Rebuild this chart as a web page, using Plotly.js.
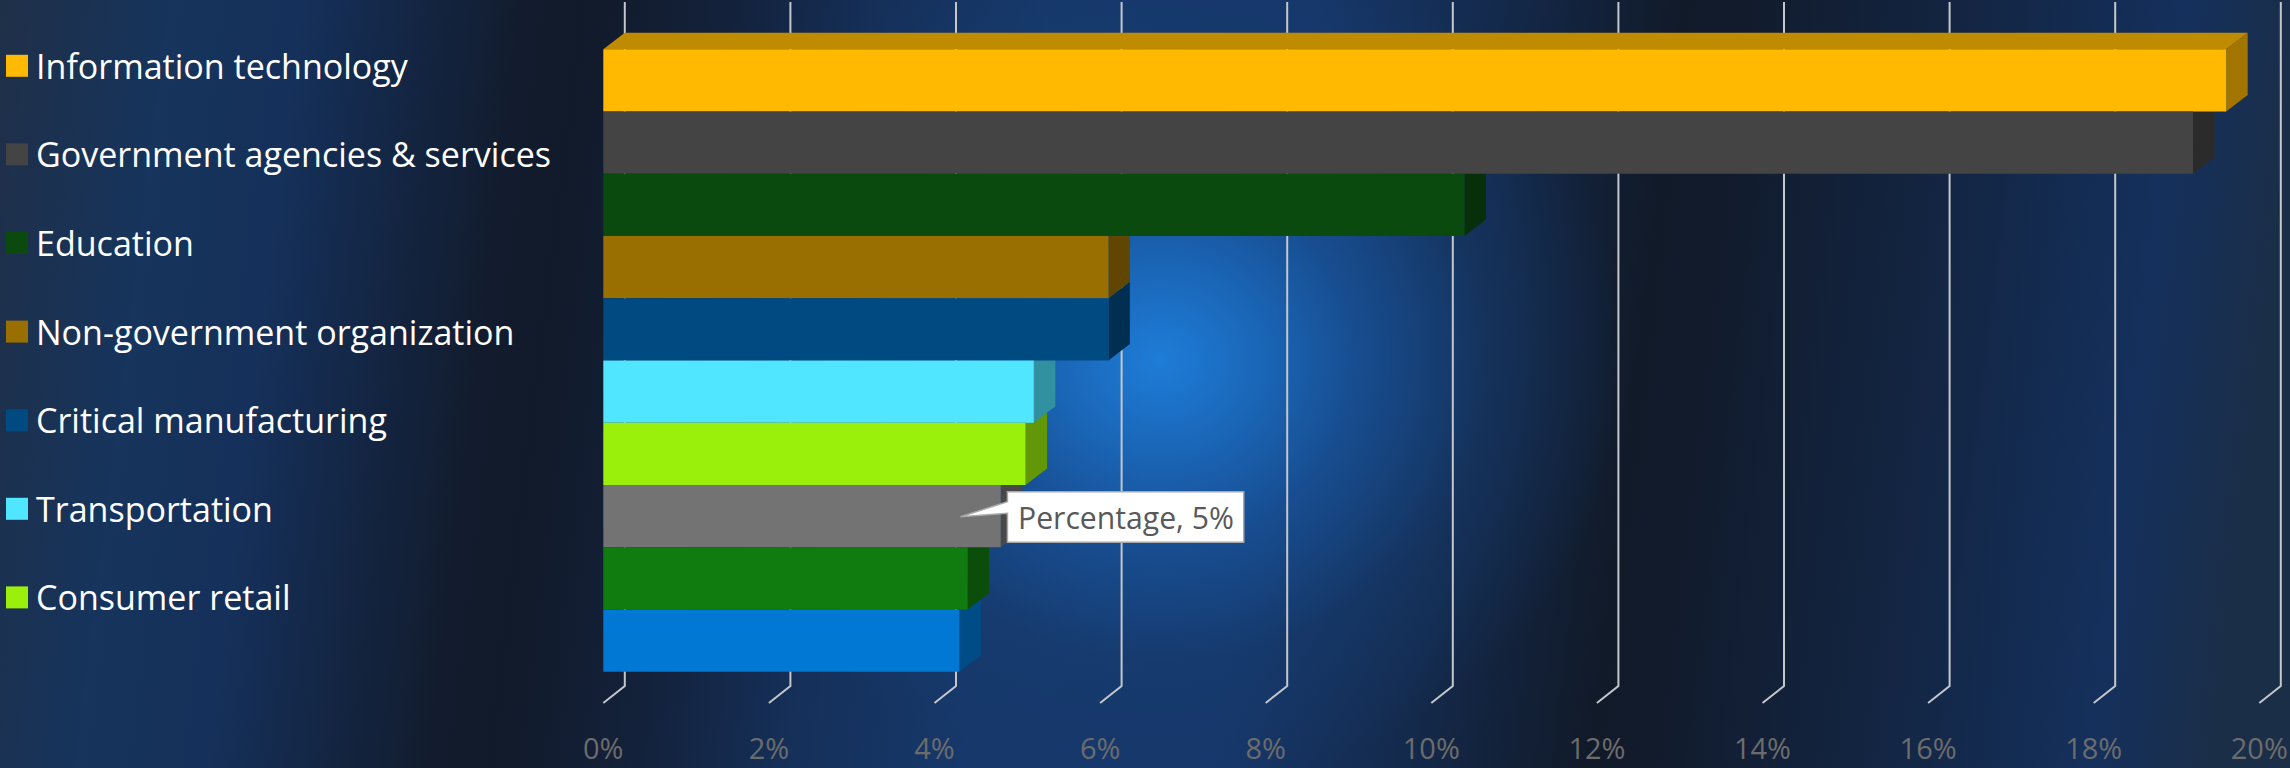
<!DOCTYPE html>
<html>
<head>
<meta charset="utf-8">
<script src="https://cdn.plot.ly/plotly-3.0.1.min.js"></script>
<style>
  html, body { margin: 0; padding: 0; width: 2290px; height: 768px; overflow: hidden; }
  body {
    background:
      radial-gradient(ellipse 470px 430px at 1160px 360px,
        rgba(30,125,215,1) 0%, rgba(27,110,196,0.92) 18%, rgba(24,86,160,0.75) 42%,
        rgba(22,62,115,0.45) 70%, rgba(20,45,85,0) 100%),
      linear-gradient(97deg,
        #1f2f48 0px, #16345c 170px, #15305a 300px, #121c2e 520px, #111a2a 580px,
        #13213a 720px, #15305a 880px, #16386a 1050px, #16376a 1300px, #142b4f 1470px,
        #111a29 1670px, #111b2c 1730px, #132440 1930px, #14305c 2170px, #1b2e48 2290px);
  }
  #chart { width: 2290px; height: 768px; }
</style>
</head>
<body>
<div id="chart"></div>
<script>
// ---------------- data ----------------
const categories = [
  "Information technology",
  "Government agencies & services",
  "Education",
  "Non-government organization",
  "Critical manufacturing",
  "Transportation",
  "Consumer retail",
  "Other sector 8",   // names of the last three bars are not visible in the reference legend
  "Other sector 9",
  "Other sector 10"
];
const percentages = [19.6, 19.2, 10.4, 6.1, 6.1, 5.2, 5.1, 4.8, 4.4, 4.3];
const barColors = ["#FFB900", "#444444", "#0B4A0E", "#986F00", "#004A82",
                   "#50E6FF", "#9BF00B", "#737373", "#107C10", "#0078D4"];
const xTickValues = [0, 2, 4, 6, 8, 10, 12, 14, 16, 18, 20];
const xTickLabels = xTickValues.map(v => v + "%");
const seriesName = "Percentage";
const legendVisibleCount = 7;     // the reference legend shows only the first seven entries
const calloutIndex = 7;           // bar that carries the data callout

// ---------------- layout constants (pixels) ----------------
const W = 2290, H = 768;
const PLOT_B = 703;               // bottom of plotting area (front floor)
const X0PX = 603.3;               // pixel of 0% on the front plane
const PX_PER_PCT = 82.8;
const ROW0PX = 80.3;              // centre of first bar
const ROW_PX = 62.25;             // bar pitch
const DEPTH_X = 21.5, DEPTH_Y = 16.5;   // 3-D depth offset
const BACK_TOP_PX = 2, BACK_FLOOR_PX = 686;

const xRange = [-X0PX / PX_PER_PCT, (W - X0PX) / PX_PER_PCT];
const yTop = -ROW0PX / ROW_PX;
const yBottom = yTop + PLOT_B / ROW_PX;
const dx = DEPTH_X / PX_PER_PCT;
const dy = DEPTH_Y / ROW_PX;

// ---------------- fonts ----------------
const FONT = "'Open Sans', 'Noto Sans', sans-serif";
const cv = document.createElement("canvas").getContext("2d");
function fit(text, target, fallback) {
  cv.font = "100px 'Open Sans'";
  const w = cv.measureText(text).width;
  return w > 0 ? 100 * target / w : fallback;
}
const legendSize = fit("Information technology", 372, 33);
const tickSize = fit("20%", 57, 29);
const calloutSize = fit("Percentage, 5%", 216, 29);

function shade(hex, f) {
  const n = parseInt(hex.slice(1), 16);
  const r = Math.round(((n >> 16) & 255) * f), g = Math.round(((n >> 8) & 255) * f), b = Math.round((n & 255) * f);
  return "rgb(" + r + "," + g + "," + b + ")";
}

const idx = categories.map((c, i) => i);

// ---------------- shapes ----------------
const shapes = [];
// back-wall gridlines with floor return
const gTop = 1 - BACK_TOP_PX / PLOT_B, gBack = (PLOT_B - BACK_FLOOR_PX) / PLOT_B;
xTickValues.forEach(t => {
  shapes.push({
    type: "path", layer: "below", xref: "x", yref: "paper",
    path: `M${t + dx},${gTop} L${t + dx},${gBack} L${t},0`,
    line: { color: "#c4c7cb", width: 2 }
  });
});
// right side faces, bottom bar first
for (let i = categories.length - 1; i >= 0; i--) {
  const v = percentages[i];
  shapes.push({
    type: "path", layer: "below", xref: "x", yref: "y",
    path: `M${v},${i - 0.5} L${v + dx},${i - 0.5 - dy} L${v + dx},${i + 0.5 - dy} L${v},${i + 0.5} Z`,
    fillcolor: shade(barColors[i], 0.63), line: { width: 0 }
  });
}
// top face of the first bar
shapes.push({
  type: "path", layer: "below", xref: "x", yref: "y",
  path: `M0,-0.5 L${percentages[0]},-0.5 L${percentages[0] + dx},${-0.5 - dy} L${dx},${-0.5 - dy} Z`,
  fillcolor: shade(barColors[0], 0.75), line: { width: 0 }
});
// callout bubble anchored to the bar end
const cv7 = percentages[calloutIndex];
shapes.push({
  type: "path", layer: "above", xref: "x", yref: "y",
  xsizemode: "pixel", ysizemode: "pixel", xanchor: cv7, yanchor: calloutIndex,
  path: "M-40.2,-0.65 L6.7,2.75 L6.7,-26.25 L243,-26.25 L243,24.35 L6.7,24.35 L6.7,14.35 Z",
  fillcolor: "#ffffff", line: { color: "#a8a8a8", width: 1.5 }
});
// legend swatches
const LEG_Y0 = 65.8, LEG_STEP = 88.6, SW = 22, SW_X = 6, LEG_TEXT_X = 34;
const annotations = [];
for (let j = 0; j < legendVisibleCount; j++) {
  const cy = LEG_Y0 + LEG_STEP * j;
  shapes.push({
    type: "rect", xref: "paper", yref: "paper", layer: "above",
    x0: SW_X / W, x1: (SW_X + SW) / W,
    y0: (PLOT_B - (cy + SW / 2)) / PLOT_B, y1: (PLOT_B - (cy - SW / 2)) / PLOT_B,
    fillcolor: barColors[j], line: { width: 0 }
  });
  annotations.push({
    xref: "paper", yref: "paper", x: LEG_TEXT_X / W, y: (PLOT_B - cy) / PLOT_B,
    xanchor: "left", yanchor: "middle", showarrow: false,
    text: categories[j], font: { family: FONT, size: legendSize, color: "#ffffff" }
  });
}
annotations.push({
  xref: "x", yref: "y", x: cv7, y: calloutIndex, xshift: 124.85, yshift: -0.95,
  xanchor: "center", yanchor: "middle", showarrow: false,
  text: seriesName + ", " + Math.round(cv7) + "%",
  font: { family: FONT, size: calloutSize, color: "#595959" }
});

const trace = {
  type: "bar", orientation: "h",
  x: percentages, y: idx, width: 1,
  marker: { color: barColors, line: { width: 0 } },
  hoverinfo: "skip", name: seriesName
};

const layout = {
  width: W, height: H,
  margin: { l: 0, r: 0, t: 0, b: H - PLOT_B, pad: 0 },
  paper_bgcolor: "rgba(0,0,0,0)", plot_bgcolor: "rgba(0,0,0,0)",
  showlegend: false,
  xaxis: {
    range: xRange, tickvals: xTickValues, ticktext: xTickLabels,
    showgrid: false, zeroline: false, showline: false, ticks: "",
    ticklabelstandoff: 26,
    tickfont: { family: FONT, size: tickSize, color: "#6c6c6c" }, fixedrange: true
  },
  yaxis: {
    range: [yBottom, yTop], showticklabels: false, showgrid: false,
    zeroline: false, showline: false, ticks: "", fixedrange: true
  },
  shapes: shapes,
  annotations: annotations
};

Plotly.newPlot("chart", [trace], layout, { displayModeBar: false, staticPlot: true });
</script>
</body>
</html>
